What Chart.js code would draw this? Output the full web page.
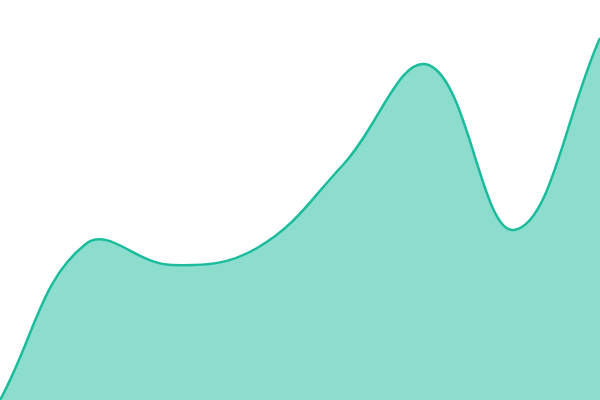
<!DOCTYPE html>
<html>
<head>
<meta charset="utf-8">
<script src="https://cdn.jsdelivr.net/npm/chart.js@4/dist/chart.umd.min.js"></script>
<style>
  html, body { margin: 0; padding: 0; background: #fff; }
  #wrap { width: 600px; height: 400px; }
</style>
</head>
<body>
<div id="wrap"><canvas id="area-chart"></canvas></div>
<script>
// x positions are just category slots
const labels = ["1", "2", "3", "4", "5", "6", "7", "8"];
const values = [0, 156, 135, 152, 235, 335, 170, 362];
const yMin = 0;
const yMax = 400;

new Chart(document.getElementById("area-chart").getContext("2d"), {
  type: "line",
  data: {
    labels,
    datasets: [{
      data: values,
      borderColor: "#1abc9c",
      backgroundColor: "rgba(26,188,156,0.5)",
      borderWidth: 2.5,
      fill: true,
      tension: 0.4,
      pointRadius: 0,
    }],
  },
  options: {
    responsive: true,
    maintainAspectRatio: false,
    animation: false,
    layout: { padding: 0 },
    plugins: { legend: { display: false }, tooltip: { enabled: false } },
    scales: {
      x: { display: false, offset: false },
      y: { display: false, min: yMin, max: yMax },
    },
  },
});
</script>
</body>
</html>
